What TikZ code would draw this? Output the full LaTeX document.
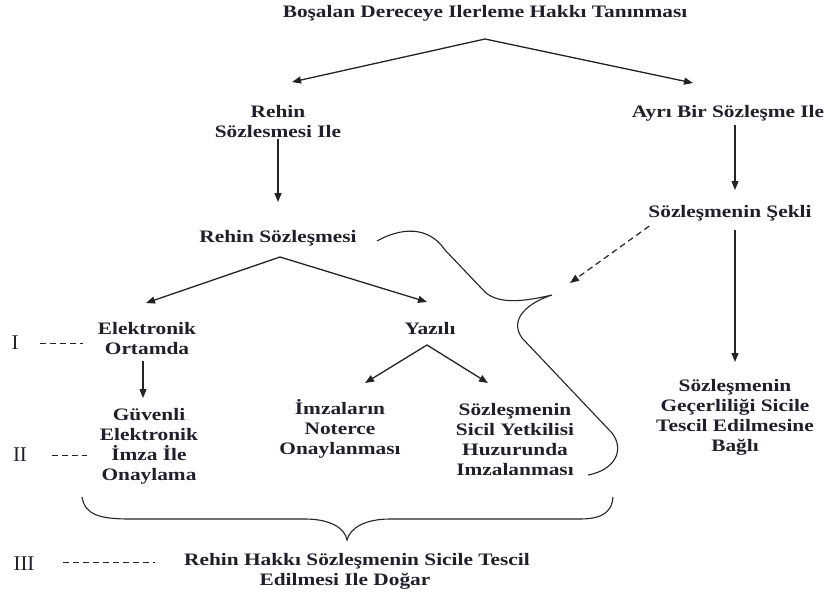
\documentclass[tikz,border=0pt]{standalone}
\usepackage{fontspec}
\setmainfont{Liberation Serif}
\newfontfamily\lblfont[FakeStretch=1.22]{Liberation Serif}
\usetikzlibrary{arrows.meta}
\definecolor{txt}{RGB}{35,30,45}
\definecolor{lc}{RGB}{35,35,35}
\begin{document}
\begin{tikzpicture}[x=1pt,y=-1pt,
  >={Triangle[length=9pt,width=7pt]},
  lab/.style={font=\lblfont\bfseries\fontsize{17.5}{20}\selectfont, text=txt, align=center, inner sep=1pt},
  rn/.style={font=\fontsize{21}{23}\selectfont, text=txt, inner sep=0pt},
  conn/.style={draw=lc, line width=1.3pt},
  brace/.style={draw=lc, line width=1.1pt},
  dsh/.style={draw=lc, line width=1pt, dash pattern=on 6pt off 4pt}]
\useasboundingbox (0,0) rectangle (832,597);

% text nodes
\node[lab] (title) at (485,13) {Boşalan Dereceye Ilerleme Hakkı Tanınması};
\node[lab] (rehinile) at (278,122) {Rehin\\Sözlesmesi Ile};
\node[lab] (ayri) at (728,113) {Ayrı Bir Sözleşme Ile};
\node[lab] (rs) at (278,238) {Rehin Sözleşmesi};
\node[lab] (sekli) at (730,213) {Sözleşmenin Şekli};
\node[lab] (elek) at (147,339) {Elektronik\\Ortamda};
\node[lab] (yazili) at (430,329) {Yazılı};
\node[lab] (guv) at (149,446) {Güvenli\\Elektronik\\İmza İle\\Onaylama};
\node[lab] (imz) at (340,429) {İmzaların\\Noterce\\Onaylanması};
\node[lab] (sic) at (515,440) {Sözleşmenin\\Sicil Yetkilisi\\Huzurunda\\Imzalanması};
\node[lab] (gec) at (735,417) {Sözleşmenin\\Geçerliliği Sicile\\Tescil Edilmesine\\Bağlı};
\node[lab] (dogar) at (357,571) {Rehin Hakkı Sözleşmenin Sicile Tescil\\Edilmesi Ile Doğar\hspace*{24pt}};

\node[rn] (r1) at (15,343) {I};
\node[rn] (r2) at (20,455) {II};
\node[rn] (r3) at (24,564) {III};

% coordinates for free ends
\coordinate (ap1) at (485,39);
\coordinate (t1) at (292,82);
\coordinate (t2) at (693,83);
\coordinate (t3) at (278,202);
\coordinate (t4) at (735,190);
\coordinate (ap2) at (280,257);
\coordinate (t5) at (146,303);
\coordinate (t6) at (427,302);
\coordinate (t7) at (143,398);
\coordinate (ap3) at (427,345);
\coordinate (t8a) at (365,383);
\coordinate (t8b) at (488,383);
\coordinate (t9) at (735,362);
\coordinate (t10) at (570,283);
\coordinate (d1) at (40,343);
\coordinate (d1e) at (83,343);
\coordinate (d2) at (52,455);
\coordinate (d2e) at (87,455);
\coordinate (d3) at (63,562);
\coordinate (d3e) at (155,562);

% connectors
\draw[conn,<->] (t1) -- (ap1) -- (t2);
\draw[conn,->] (rehinile.south) -- (t3);
\draw[conn,->,shorten <=3pt] (ayri.south -| t4) -- (t4);
\draw[conn,<->] (t5) -- (ap2) -- (t6);
\draw[conn,->,shorten <=5pt] (elek.south -| t7) -- (t7);
\draw[conn,<->] (t8a) -- (ap3) -- (t8b);
\draw[conn,->,shorten <=8pt] (sekli.south -| t9) -- (t9);
\draw[dsh,->,line width=1.2pt] (sekli.south west) ++(2,4) -- (t10);

\draw[dsh] (d1) -- (d1e);
\draw[dsh] (d2) -- (d2e);
\draw[dsh] (d3) -- (d3e);

% side brace
\draw[brace] (377,241) .. controls (400,228) and (428,225) .. (445,250)
  -- (485,292) .. controls (500,306) and (530,300) .. (552,295)
  .. controls (530,302) and (508,318) .. (522,338)
  -- (612,433) .. controls (625,450) and (615,470) .. (588,475);

% bottom brace
\draw[brace] (82,497) .. controls (85,515) and (100,519) .. (130,519)
  -- (305,519) .. controls (330,519) and (345,528) .. (347,540)
  .. controls (350,528) and (365,519) .. (390,519)
  -- (580,519) .. controls (605,519) and (612,510) .. (613,497);
\end{tikzpicture}
\end{document}
